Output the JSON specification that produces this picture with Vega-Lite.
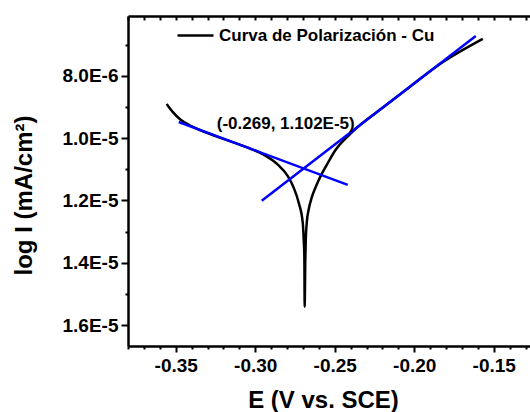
{
  "$schema": "https://vega.github.io/schema/vega-lite/v6.json",
  "width": 402,
  "height": 330,
  "autosize": {"type": "none"},
  "padding": {"left": 128, "top": 16, "right": 0, "bottom": 66},
  "background": "white",
  "config": {
    "view": {"stroke": null},
    "font": "Liberation Sans",
    "axis": {
      "grid": false,
      "domainColor": "black",
      "domainWidth": 2.5,
      "tickColor": "black",
      "tickWidth": 2,
      "labelColor": "black",
      "labelFontSize": 19,
      "labelFontWeight": "bold",
      "labelFont": "Liberation Sans",
      "titleFont": "Liberation Sans",
      "titleColor": "black",
      "titleFontWeight": "bold",
      "titleFontSize": 24,
      "labelOverlap": false,
      "labelFlush": false
    }
  },
  "datasets": {
    "curve": [
      {"o": 1, "E": -0.3557, "I": 8.90e-6},
      {"o": 2, "E": -0.3519, "I": 9.155e-6},
      {"o": 3, "E": -0.3469, "I": 9.41e-6},
      {"o": 4, "E": -0.3406, "I": 9.60e-6},
      {"o": 5, "E": -0.3343, "I": 9.75e-6},
      {"o": 6, "E": -0.3173, "I": 1.007e-5},
      {"o": 7, "E": -0.3028, "I": 1.034e-5},
      {"o": 8, "E": -0.2947, "I": 1.053e-5},
      {"o": 9, "E": -0.2858, "I": 1.085e-5},
      {"o": 10, "E": -0.2796, "I": 1.121e-5},
      {"o": 11, "E": -0.2758, "I": 1.159e-5},
      {"o": 12, "E": -0.2726, "I": 1.208e-5},
      {"o": 13, "E": -0.2701, "I": 1.272e-5},
      {"o": 14, "E": -0.2695, "I": 1.326e-5},
      {"o": 15, "E": -0.2691, "I": 1.381e-5},
      {"o": 16, "E": -0.2689, "I": 1.5415e-5},
      {"o": 17, "E": -0.2685, "I": 1.39e-5},
      {"o": 18, "E": -0.2682, "I": 1.326e-5},
      {"o": 19, "E": -0.2676, "I": 1.272e-5},
      {"o": 20, "E": -0.2664, "I": 1.23e-5},
      {"o": 21, "E": -0.2645, "I": 1.191e-5},
      {"o": 22, "E": -0.2619, "I": 1.156e-5},
      {"o": 23, "E": -0.2588, "I": 1.121e-5},
      {"o": 24, "E": -0.2550, "I": 1.0855e-5},
      {"o": 25, "E": -0.2494, "I": 1.037e-5},
      {"o": 26, "E": -0.2418, "I": 9.94e-6},
      {"o": 27, "E": -0.2336, "I": 9.556e-6},
      {"o": 28, "E": -0.2255, "I": 9.235e-6},
      {"o": 29, "E": -0.2041, "I": 8.40e-6},
      {"o": 30, "E": -0.1833, "I": 7.60e-6},
      {"o": 31, "E": -0.1569, "I": 6.81e-6}
    ],
    "tafel": [
      {"line": "cathodic", "E": -0.3481, "I": 9.48e-6},
      {"line": "cathodic", "E": -0.2418, "I": 1.150e-5},
      {"line": "anodic", "E": -0.2959, "I": 1.201e-5},
      {"line": "anodic", "E": -0.1613, "I": 6.72e-6}
    ],
    "note": [
      {"E": -0.2808, "I": 9.54e-6, "label": "(-0.269, 1.102E-5)"}
    ]
  },
  "layer": [
    {
      "data": {"name": "curve"},
      "mark": {"type": "line", "strokeWidth": 2.5, "interpolate": "monotone"},
      "encoding": {
        "x": {
          "field": "E", "type": "quantitative",
          "scale": {"domain": [-0.38, -0.1272], "nice": false, "zero": false},
          "axis": {
            "orient": "bottom",
            "values": [-0.35, -0.30, -0.25, -0.20, -0.15],
            "labelExpr": "replace(format(datum.value, '.2f'), '\u2212', '-')",
            "tickSize": 6,
            "labelPadding": 4,
            "title": "E (V vs. SCE)",
            "titleX": 195,
            "titleY": 54,
            "titleBaseline": "middle",
            "titleAnchor": "middle"
          }
        },
        "y": {
          "field": "I", "type": "quantitative",
          "scale": {"domain": [6.075e-6, 1.6674e-5], "reverse": true, "nice": false, "zero": false},
          "axis": {
            "orient": "left",
            "values": [8e-6, 1e-5, 1.2e-5, 1.4e-5, 1.6e-5],
            "labelExpr": "replace(replace(format(datum.value, '.1e'), 'e', 'E'), '\u2212', '-')",
            "tickSize": 7,
            "labelPadding": 3,
            "title": "log I (mA/cm²)",
            "titleX": -104,
            "titleY": 179,
            "titleBaseline": "middle",
            "titleAnchor": "middle"
          }
        },
        "order": {"field": "o", "type": "quantitative"},
        "color": {
          "datum": "Curva de Polarización - Cu",
          "type": "nominal",
          "scale": {"domain": ["Curva de Polarización - Cu"], "range": ["black"]},
          "legend": {
            "orient": "none",
            "legendX": 48,
            "legendY": 0,
            "title": null,
            "padding": 0,
            "symbolType": "stroke",
            "symbolSize": 1296,
            "symbolStrokeWidth": 2.5,
            "symbolStrokeColor": "black",
            "labelFontSize": 17,
            "labelFontWeight": "bold",
            "labelColor": "black",
            "labelFont": "Liberation Sans",
            "labelOffset": 4,
            "labelLimit": 400
          }
        }
      }
    },
    {
      "data": {"name": "tafel"},
      "mark": {"type": "line", "strokeWidth": 2.5, "color": "#0000ff"},
      "encoding": {
        "x": {
          "field": "E", "type": "quantitative",
          "axis": {
            "orient": "bottom",
            "values": [-0.38,-0.37,-0.36,-0.34,-0.33,-0.32,-0.31,-0.29,-0.28,-0.27,-0.26,-0.24,-0.23,-0.22,-0.21,-0.19,-0.18,-0.17,-0.16,-0.14,-0.13],
            "labels": false,
            "domain": false,
            "title": null,
            "tickSize": 3
          }
        },
        "y": {
          "field": "I", "type": "quantitative",
          "axis": {
            "orient": "left",
            "values": [7e-6, 9e-6, 1.1e-5, 1.3e-5, 1.5e-5],
            "labels": false,
            "domain": false,
            "title": null,
            "tickSize": 3
          }
        },
        "detail": {"field": "line", "type": "nominal"}
      }
    },
    {
      "data": {"name": "note"},
      "mark": {"type": "text", "fontSize": 17, "fontWeight": "bold", "color": "black", "font": "Liberation Sans"},
      "encoding": {
        "x": {
          "field": "E", "type": "quantitative",
          "axis": {
            "orient": "top",
            "values": [-0.38,-0.37,-0.36,-0.35,-0.34,-0.33,-0.32,-0.31,-0.30,-0.29,-0.28,-0.27,-0.26,-0.25,-0.24,-0.23,-0.22,-0.21,-0.20,-0.19,-0.18,-0.17,-0.16,-0.15,-0.14,-0.13],
            "labels": false,
            "title": null,
            "tickSize": -4
          }
        },
        "y": {"field": "I", "type": "quantitative", "axis": null},
        "text": {"field": "label"}
      }
    }
  ],
  "resolve": {"axis": {"x": "independent", "y": "independent"}}
}
